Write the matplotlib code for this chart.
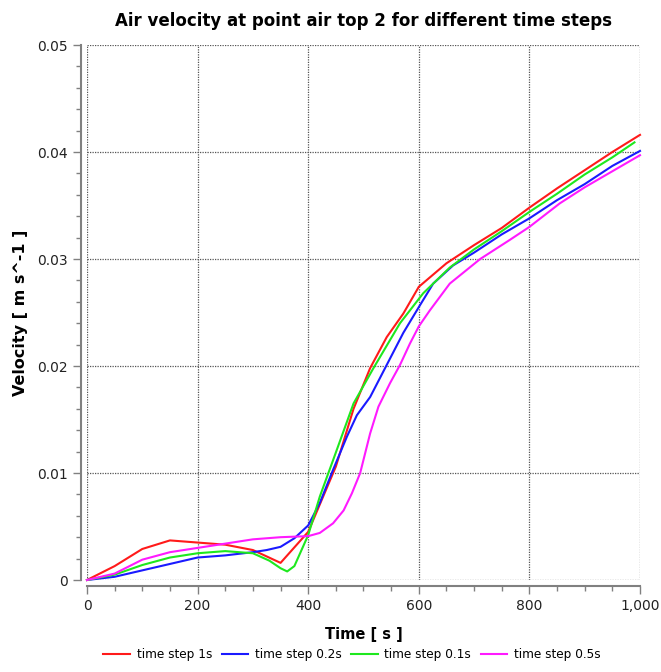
import matplotlib
matplotlib.use("Agg")
import matplotlib.pyplot as plt
from matplotlib.ticker import FuncFormatter, MultipleLocator

title = "Air velocity at point air top 2 for different time steps"
xlabel = "Time [ s ]"
ylabel = "Velocity [ m s^-1 ]"

t_1s = [0, 50, 100, 150, 200, 250, 300, 350, 400, 450, 482, 512, 542, 572, 600,
        650, 700, 750, 800, 850, 900, 950, 1000]
v_1s = [0, 0.0013, 0.0029, 0.0037, 0.0035, 0.0033, 0.0028, 0.0016, 0.0045, 0.0106,
        0.0160, 0.0198, 0.0227, 0.0249, 0.0274, 0.0296, 0.0313, 0.0329, 0.0348,
        0.0366, 0.0383, 0.0400, 0.0416]

t_02s = [0, 50, 100, 150, 200, 250, 300, 325, 350, 375, 400, 421, 445, 470, 488,
         512, 542, 572, 600, 626, 662, 700, 750, 800, 850, 900, 950, 1000]
v_02s = [0, 0.0003, 0.0009, 0.0015, 0.0021, 0.0023, 0.0026, 0.0028, 0.0031, 0.0039,
         0.0051, 0.0072, 0.0103, 0.0134, 0.0154, 0.0171, 0.0201, 0.0231, 0.0255,
         0.0277, 0.0294, 0.0306, 0.0323, 0.0338, 0.0355, 0.0370, 0.0387, 0.0401]

t_01s = [0, 50, 100, 150, 200, 250, 300, 330, 350, 362, 375, 400, 421, 445, 482,
         518, 566, 608, 656, 700, 750, 800, 850, 900, 950, 990]
v_01s = [0, 0.0005, 0.0014, 0.0021, 0.0025, 0.0027, 0.0025, 0.0018, 0.0011, 0.0008,
         0.0013, 0.0042, 0.0078, 0.0112, 0.0165, 0.0198, 0.0240, 0.0268, 0.0292,
         0.0309, 0.0326, 0.0344, 0.0361, 0.0379, 0.0395, 0.0409]

t_05s = [0, 50, 100, 150, 200, 250, 300, 350, 400, 421, 445, 464, 479, 494, 512,
         527, 548, 566, 584, 600, 620, 656, 711, 765, 800, 855, 900, 950, 1000]
v_05s = [0, 0.0006, 0.0019, 0.0026, 0.0030, 0.0034, 0.0038, 0.0040, 0.0041, 0.0044,
         0.0053, 0.0065, 0.0081, 0.0100, 0.0137, 0.0162, 0.0184, 0.0201, 0.0221,
         0.0237, 0.0252, 0.0277, 0.0300, 0.0318, 0.0330, 0.0352, 0.0367, 0.0382,
         0.0397]

series = [
    ("time step 1s", t_1s, v_1s, "#ff1a1a"),
    ("time step 0.2s", t_02s, v_02s, "#1a1aff"),
    ("time step 0.1s", t_01s, v_01s, "#1ee81e"),
    ("time step 0.5s", t_05s, v_05s, "#ff1aff"),
]

W, H = 661, 672
fig = plt.figure(figsize=(W / 100, H / 100), dpi=100)
ax = fig.add_axes([87 / W, 1 - 580 / H, (640 - 87) / W, (580 - 45) / H])

for label, t, v, c in series:
    ax.plot(t, v, color=c, lw=1.5, label=label, clip_on=False)

ax.set_xlim(0, 1000)
ax.set_ylim(0, 0.05)
ax.xaxis.set_major_locator(MultipleLocator(200))
ax.xaxis.set_minor_locator(MultipleLocator(50))
ax.yaxis.set_major_locator(MultipleLocator(0.01))
ax.yaxis.set_minor_locator(MultipleLocator(0.002))
ax.xaxis.set_major_formatter(FuncFormatter(lambda x, p: f"{int(round(x)):,}"))
ax.yaxis.set_major_formatter(FuncFormatter(lambda y, p: "0" if abs(y) < 1e-12 else f"{y:.2f}"))

ax.grid(True, which="major", color="#555555", linestyle=(0, (1, 1)), lw=0.9)
for s in ["top", "right"]:
    ax.spines[s].set_visible(False)
for s in ["left", "bottom"]:
    ax.spines[s].set_position(("outward", 4))
    ax.spines[s].set_color("#808080")
    ax.spines[s].set_linewidth(1.5)
ax.tick_params(which="major", length=6, width=1, color="#808080", labelsize=10,
               labelcolor="#222222")
ax.tick_params(which="minor", length=3.5, width=1, color="#808080")

ax.set_title(title, fontsize=12, fontweight="bold", pad=14)
ax.set_xlabel(xlabel, fontsize=10.5, fontweight="bold", labelpad=10)
ax.set_ylabel(ylabel, fontsize=11.5, fontweight="bold", labelpad=7)

fig.legend(loc="lower center", bbox_to_anchor=(352 / W, 0.0), ncol=4, frameon=False,
           fontsize=8.7, handlelength=2.2, handletextpad=0.55, columnspacing=0.8)

fig.savefig("out.png", dpi=100, facecolor="white")
